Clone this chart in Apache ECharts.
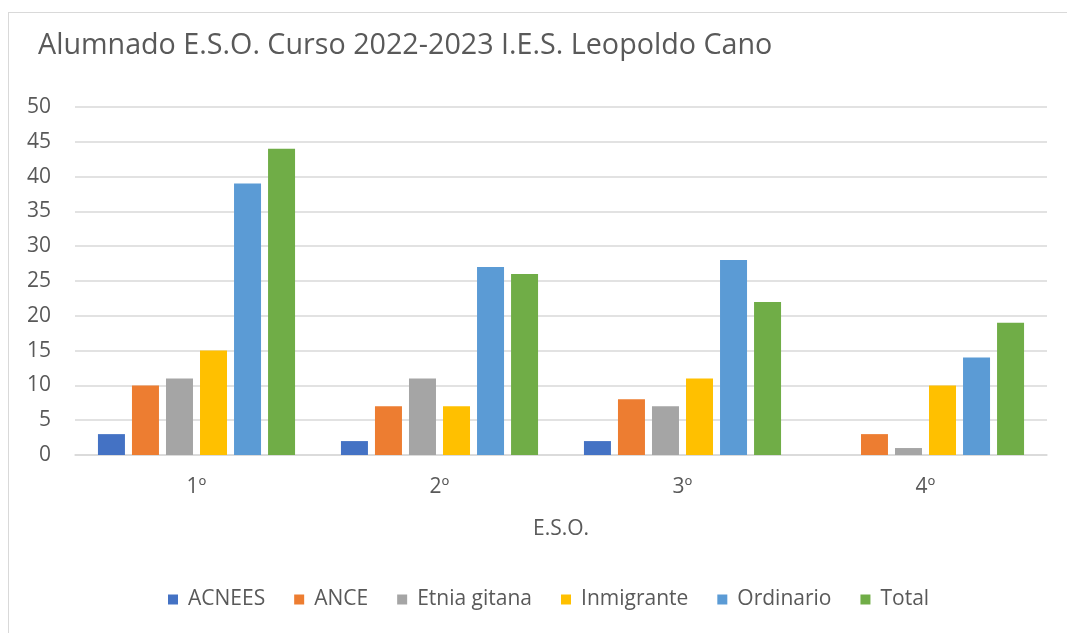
<!DOCTYPE html>
<html>
<head>
<meta charset="utf-8">
<script src="https://cdn.jsdelivr.net/npm/echarts@6/dist/echarts.min.js"></script>
<style>
html,body{margin:0;padding:0;background:#fff;overflow:hidden;}
#frame{position:absolute;left:8px;top:12px;width:1080px;height:640px;border:1px solid #d9d9d9;box-sizing:border-box;}
#chart{position:absolute;left:0;top:0;width:1067px;height:633px;}
</style>
</head>
<body>
<div id="frame"></div>
<div id="chart"></div>
<script>
const categories = ['1º', '2º', '3º', '4º'];
const seriesNames = ['ACNEES', 'ANCE', 'Etnia gitana', 'Inmigrante', 'Ordinario', 'Total'];
const acnees = [3, 2, 2, 0];
const ance = [10, 7, 8, 3];
const etniaGitana = [11, 11, 7, 1];
const inmigrante = [15, 7, 11, 10];
const ordinario = [39, 27, 28, 14];
const total = [44, 26, 22, 19];
const colors = ['#4472C4', '#ED7D31', '#A5A5A5', '#FFC000', '#5B9BD5', '#70AD47'];
const allValues = [acnees, ance, etniaGitana, inmigrante, ordinario, total];

const FONT = 'Open Sans';
const chart = echarts.init(document.getElementById('chart'));
chart.setOption({
  animation: false,
  color: colors,
  title: {
    text: 'Alumnado E.S.O. Curso 2022-2023 I.E.S. Leopoldo Cano',
    left: 33, top: 26,
    textStyle: {fontFamily: FONT, fontSize: 28.7, fontWeight: 'normal', color: '#595959'}
  },
  legend: {
    bottom: 18, left: 163,
    itemWidth: 10, itemHeight: 10, itemGap: 29,
    icon: 'rect',
    textStyle: {fontFamily: FONT, fontSize: 21, color: '#595959', padding: [0, 0, 0, 5]}
  },
  grid: {left: 75, right: 20, top: 107, bottom: 178, containLabel: false},
  xAxis: {
    type: 'category', data: categories,
    name: 'E.S.O.', nameLocation: 'middle', nameGap: 64,
    nameTextStyle: {fontFamily: FONT, fontSize: 21, color: '#595959'},
    axisLine: {lineStyle: {color: '#d9d9d9', width: 1.5}},
    axisTick: {show: false},
    axisLabel: {fontFamily: FONT, fontSize: 21, color: '#595959', margin: 22}
  },
  yAxis: {
    type: 'value', min: 0, max: 50, interval: 5,
    axisLine: {show: false}, axisTick: {show: false},
    splitLine: {lineStyle: {color: '#d9d9d9', width: 1.5}},
    axisLabel: {fontFamily: FONT, fontSize: 21, color: '#595959', margin: 24}
  },
  series: seriesNames.map((n, i) => ({
    name: n, type: 'bar', data: allValues[i],
    barWidth: 27, barGap: '26%'
  }))
});
</script>
</body>
</html>
